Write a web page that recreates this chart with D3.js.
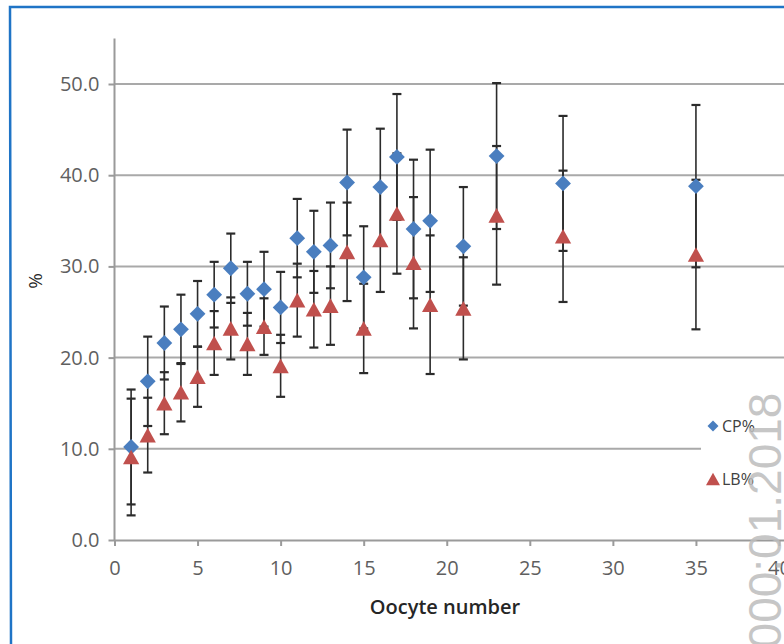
<!DOCTYPE html>
<html>
<head>
<meta charset="utf-8">
<script src="https://cdnjs.cloudflare.com/ajax/libs/d3/7.8.5/d3.min.js"></script>
<style>
  body { margin: 0; background: #fff; }
  .tick text { font-family: "Open Sans", sans-serif; fill: #5f5f5f; }
</style>
</head>
<body>
<script>
// Data
var oocytes = [1, 2, 3, 4, 5, 6, 7, 8, 9, 10, 11, 12, 13, 14, 15, 16, 17, 18, 19, 21, 23, 27, 35];
var cpMean = [10.2, 17.4, 21.6, 23.1, 24.8, 26.9, 29.8, 27.0, 27.5, 25.5, 33.1, 31.6, 32.3, 39.2, 28.8, 38.7, 42.0, 34.1, 35.0, 32.2, 42.1, 39.1, 38.8];
var cpErr = [6.3, 4.9, 4.0, 3.8, 3.6, 3.6, 3.8, 3.5, 4.1, 3.9, 4.3, 4.5, 4.7, 5.8, 5.6, 6.4, 6.9, 7.6, 7.8, 6.5, 8.0, 7.4, 8.9];
var lbMean = [9.1, 11.5, 15.0, 16.2, 17.9, 21.6, 23.2, 21.5, 23.4, 19.1, 26.3, 25.3, 25.7, 31.6, 23.2, 32.9, 35.8, 30.4, 25.8, 25.4, 35.6, 33.3, 31.3];
var lbErr = [6.4, 4.1, 3.4, 3.2, 3.3, 3.5, 3.4, 3.4, 3.1, 3.4, 4.0, 4.2, 4.3, 5.4, 4.9, 5.7, 6.6, 7.2, 7.6, 5.6, 7.6, 7.2, 8.2];
var xTicks = [0, 5, 10, 15, 20, 25, 30, 35, 40];
var yTicks = [0, 10, 20, 30, 40, 50];
var seriesNames = ["CP%", "LB%"];

var svgWidth = 784;
var svgHeight = 644;

var svg = d3.select("body")
  .append("svg")
  .attr("width", svgWidth)
  .attr("height", svgHeight);

// Scales
var xScale = d3.scaleLinear().domain([0, 40]).range([114.5, 779]);
var yScale = d3.scaleLinear().domain([0, 55]).range([540, 38.4]);

// blue frame
svg.append("path")
  .attr("d", "M11,644 L10,7 L784,7")
  .attr("fill", "none")
  .attr("stroke", "#1f74c6")
  .attr("stroke-width", 2.5);

// gridlines
svg.append("g")
  .selectAll("line")
  .data(yTicks.filter(d => d > 0))
  .enter()
  .append("line")
  .attr("x1", xScale(0))
  .attr("x2", svgWidth)
  .attr("y1", d => yScale(d))
  .attr("y2", d => yScale(d))
  .attr("stroke", "#a9a9a9")
  .attr("stroke-width", 2);

// axes
var bottomAxis = d3.axisBottom(xScale).tickValues(xTicks).tickSize(6).tickPadding(15);
var leftAxis = d3.axisLeft(yScale).tickValues(yTicks).tickSize(6).tickPadding(9)
  .tickFormat(d3.format(".1f"));

var xAxis = svg.append("g")
  .attr("transform", `translate(0, ${yScale(0)})`)
  .call(bottomAxis);
xAxis.select(".domain").attr("d", `M${xScale(0)},0.5H${svgWidth}`);

var yAxis = svg.append("g")
  .attr("transform", `translate(${xScale(0)}, 0)`)
  .call(leftAxis);
yAxis.select(".domain").attr("d", `M0,${yScale(55)}V${yScale(0)}`);

svg.selectAll(".domain, .tick line")
  .attr("stroke", "#9a9a9a")
  .attr("stroke-width", 2);
svg.selectAll(".tick text").style("font-size", "20px");

// axis labels
svg.append("text")
  .attr("x", 445)
  .attr("y", 614)
  .attr("text-anchor", "middle")
  .style("font-family", "Open Sans, sans-serif")
  .style("font-size", "20px")
  .style("font-weight", 600)
  .attr("fill", "#262626")
  .text("Oocyte number");

svg.append("text")
  .attr("transform", "translate(42, 281) rotate(-90)")
  .attr("text-anchor", "middle")
  .style("font-family", "Open Sans, sans-serif")
  .style("font-size", "19px")
  .attr("fill", "#262626")
  .text("%");

// marker shapes
var diamond = {
  draw: function(ctx, size) {
    var r = Math.sqrt(size / 2);
    ctx.moveTo(0, -r); ctx.lineTo(r, 0); ctx.lineTo(0, r); ctx.lineTo(-r, 0); ctx.closePath();
  }
};
var triangle = {
  draw: function(ctx, size) {
    var w = Math.sqrt(size * 2 * 1.15), h = w * 0.9;
    ctx.moveTo(0, -h / 2); ctx.lineTo(w / 2, h / 2); ctx.lineTo(-w / 2, h / 2); ctx.closePath();
  }
};

var rows = oocytes.map((x, i) => ({x: x, cp: cpMean[i], cpE: cpErr[i], lb: lbMean[i], lbE: lbErr[i]}));

// error bars
var bars = [];
rows.forEach(function(r) {
  bars.push({x: r.x, lo: r.cp - r.cpE, hi: r.cp + r.cpE});
  bars.push({x: r.x, lo: r.lb - r.lbE, hi: r.lb + r.lbE});
});
var errG = svg.append("g").attr("stroke", "#2b2b2b").attr("stroke-width", 1.6);
errG.selectAll("line.v")
  .data(bars)
  .enter()
  .append("line")
  .attr("x1", d => xScale(d.x))
  .attr("x2", d => xScale(d.x))
  .attr("y1", d => yScale(d.lo))
  .attr("y2", d => yScale(d.hi));
errG.selectAll("line.c")
  .data(bars.flatMap(d => [{x: d.x, v: d.lo}, {x: d.x, v: d.hi}]))
  .enter()
  .append("line")
  .attr("x1", d => xScale(d.x) - 4.5)
  .attr("x2", d => xScale(d.x) + 4.5)
  .attr("y1", d => yScale(d.v))
  .attr("y2", d => yScale(d.v))
  .attr("stroke-width", 2.2);

// markers
svg.append("g").selectAll("path")
  .data(rows)
  .enter()
  .append("path")
  .attr("d", d3.symbol().type(diamond).size(125))
  .attr("transform", d => `translate(${xScale(d.x)}, ${yScale(d.cp)})`)
  .attr("fill", "#4a7ebf");

svg.append("g").selectAll("path")
  .data(rows)
  .enter()
  .append("path")
  .attr("d", d3.symbol().type(triangle).size(115))
  .attr("transform", d => `translate(${xScale(d.x)}, ${yScale(d.lb)})`)
  .attr("fill", "#c0504d");

// legend
var legend = svg.append("g");
legend.append("rect")
  .attr("x", 701).attr("y", 398).attr("width", 90).attr("height", 108)
  .attr("fill", "#fff");
var legendItems = legend.selectAll("g.item")
  .data(seriesNames)
  .enter()
  .append("g")
  .attr("transform", (d, i) => `translate(713, ${426 + i * 53})`);
legendItems.append("path")
  .attr("d", (d, i) => d3.symbol().type(i === 0 ? diamond : triangle).size(i === 0 ? 60 : 85)())
  .attr("fill", (d, i) => i === 0 ? "#4a7ebf" : "#c0504d");
legendItems.append("text")
  .attr("x", 9)
  .attr("y", 6)
  .style("font-family", "Open Sans, sans-serif")
  .style("font-size", "16px")
  .attr("fill", "#404040")
  .text(d => d);

// vertical stamp on the right edge
svg.append("text")
  .attr("transform", "translate(781, 674) rotate(-90)")
  .style("font-family", "Liberation Sans, sans-serif")
  .style("font-size", "46px")
  .attr("fill", "#bdbdbd")
  .attr("opacity", 0.85)
  .text("0000:01.2018");
</script>
</body>
</html>
